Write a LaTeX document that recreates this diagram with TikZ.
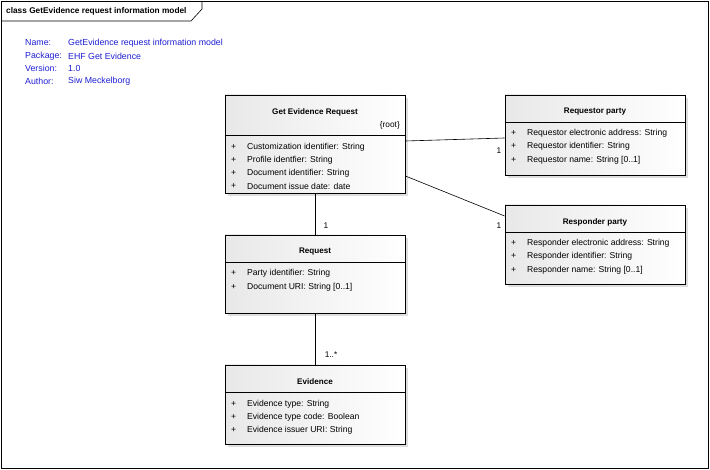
\documentclass[tikz,border=0pt]{standalone}
\usepackage{fontspec}
\setmainfont{Liberation Sans}
\usetikzlibrary{shadows,calc}
\definecolor{metablue}{RGB}{30,30,210}
\tikzset{
  classbox/.style={draw=black, line width=0.8pt, minimum width=180pt, inner sep=0pt,
    left color=black!9, right color=white,
    drop shadow={shadow xshift=3pt, shadow yshift=-3pt, fill=black!13, opacity=1}},
  txt/.style={anchor=west, inner sep=0pt, font=\fontsize{8.6}{10}\selectfont},
  ttl/.style={inner sep=0pt, font=\bfseries\fontsize{8.1}{10}\selectfont},
  sepline/.style={line width=0.6pt},
  assoc/.style={line width=0.6pt},
  mult/.style={inner sep=0pt, font=\fontsize{8.3}{10}\selectfont},
  meta/.style={anchor=west, inner sep=0pt, text=metablue, font=\fontsize{8.8}{10}\selectfont},
}
\begin{document}
\begin{tikzpicture}[x=1pt,y=-1pt]
\useasboundingbox (0,0) rectangle (710,470);

% diagram frame and name tab
\draw[line width=0.6pt] (1,1) rectangle (708,468);
\draw[line width=0.6pt] (1,21) -- (191,21) -- (202,9) -- (202,1);
\node[anchor=west, inner sep=0pt, font=\bfseries\fontsize{8.3}{10}\selectfont] (tab) at (6,11.5) {class GetEvidence request information model};

% diagram properties
\node[meta] (k1) at (25,43) {Name:};
\node[meta] (k2) at (25,56) {Package:};
\node[meta] (k3) at (25,68) {Version:};
\node[meta] (k4) at (25,81) {Author:};
\node[meta] (v1) at (68,43) {GetEvidence request information model};
\node[meta] (v2) at (68,56) {EHF Get Evidence};
\node[meta] (v3) at (68,68) {1.0};
\node[meta] (v4) at (68,81) {Siw Meckelborg};

% classes
\node[classbox, minimum height=98pt] (ger) at (315,144) {};
\node[classbox, minimum height=80pt] (rqp) at (595,135) {};
\node[classbox, minimum height=79pt] (rsp) at (595,244.5) {};
\node[classbox, minimum height=78pt] (req) at (315,274) {};
\node[classbox, minimum height=79pt] (evi) at (315,404.5) {};

% Get Evidence Request
\node[ttl] (gerT) at (315,112) {Get Evidence Request};
\node[mult, anchor=east] (gerS) at (400,125) {\{root\}};
\draw[sepline] (ger.west |- 0,135) -- (ger.east |- 0,135);
\foreach \y/\t in {147/Customization identifier: String, 160/Profile identfier: String, 173/Document identifier: String, 186/Document issue date: date}{
  \node[txt] at (231,\y) {+};
  \node[txt] at (247,\y) {\t};
}

% Requestor party
\node[ttl] (rqpT) at (595,112) {Requestor party};
\draw[sepline] (rqp.west |- 0,122) -- (rqp.east |- 0,122);
\foreach \y/\t in {133/Requestor electronic address: String, 146/Requestor identifier: String, 160/Requestor name: String [0..1]}{
  \node[txt] at (511,\y) {+};
  \node[txt] at (527,\y) {\t};
}

% Responder party
\node[ttl] (rspT) at (595,222) {Responder party};
\draw[sepline] (rsp.west |- 0,232) -- (rsp.east |- 0,232);
\foreach \y/\t in {243/Responder electronic address: String, 256/Responder identifier: String, 270/Responder name: String [0..1]}{
  \node[txt] at (511,\y) {+};
  \node[txt] at (527,\y) {\t};
}

% Request
\node[ttl] (reqT) at (315,252) {Request};
\draw[sepline] (req.west |- 0,262) -- (req.east |- 0,262);
\foreach \y/\t in {273/Party identifier: String, 287/Document URI: String [0..1]}{
  \node[txt] at (231,\y) {+};
  \node[txt] at (247,\y) {\t};
}

% Evidence
\node[ttl] (eviT) at (315,382) {Evidence};
\draw[sepline] (evi.west |- 0,392) -- (evi.east |- 0,392);
\foreach \y/\t in {404/Evidence type: String, 417/Evidence type code: Boolean, 430/Evidence issuer URI: String}{
  \node[txt] at (231,\y) {+};
  \node[txt] at (247,\y) {\t};
}

% associations
\draw[assoc] ([yshift=3pt]ger.east) -- ([yshift=-3pt]rqp.west);
\draw[assoc] ([yshift=-32pt]ger.east) -- ([yshift=28.5pt]rsp.west);
\draw[assoc] (ger.south) -- (req.north);
\draw[assoc] (req.south) -- (evi.north);

% multiplicities
\node[mult] (m1) at (499,151) {1};
\node[mult] (m2) at (499,226) {1};
\node[mult] (m3) at (326,226) {1};
\node[mult] (m4) at (331,355) {1..*};
\end{tikzpicture}
\end{document}
